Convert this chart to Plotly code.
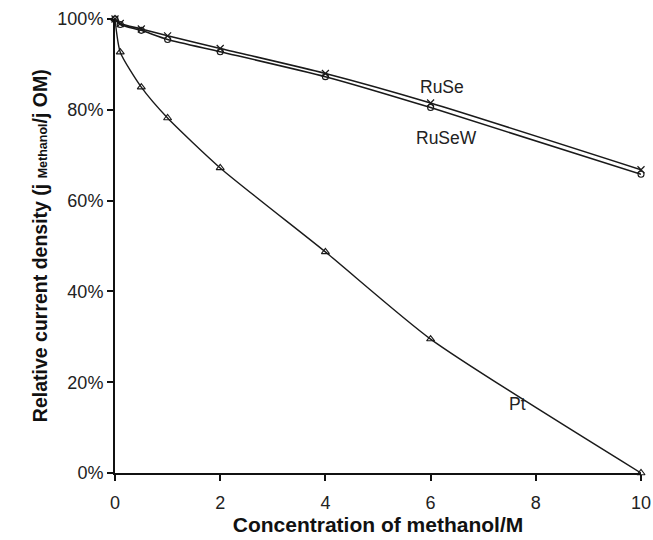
import plotly.graph_objects as go

conc = [0, 0.1, 0.5, 1, 2, 4, 6, 10]
pt = [1.00, 0.927, 0.850, 0.782, 0.672, 0.487, 0.295, 0.0]
ruse = [1.00, 0.990, 0.978, 0.963, 0.935, 0.880, 0.815, 0.668]
rusew = [1.00, 0.988, 0.975, 0.955, 0.928, 0.873, 0.805, 0.658]

ink = "#1a1a1a"
fig = go.Figure()
fig.add_trace(go.Scatter(x=conc, y=ruse, mode="lines+markers", name="RuSe",
                         line=dict(color=ink, width=1.6, shape="spline", smoothing=0.6),
                         marker=dict(symbol="x-thin-open", size=7, color=ink, line=dict(width=1.2, color=ink)),
                         cliponaxis=False))
fig.add_trace(go.Scatter(x=conc, y=rusew, mode="lines+markers", name="RuSeW",
                         line=dict(color=ink, width=1.6, shape="spline", smoothing=0.6),
                         marker=dict(symbol="circle-open", size=6, color=ink, line=dict(width=1.1)),
                         cliponaxis=False))
fig.add_trace(go.Scatter(x=conc, y=pt, mode="lines+markers", name="Pt",
                         line=dict(color=ink, width=1.4, shape="spline", smoothing=0.6),
                         marker=dict(symbol="triangle-up-open", size=7, color=ink, line=dict(width=1.1)),
                         cliponaxis=False))

fig.add_annotation(x=6.22, y=0.850, text="RuSe", showarrow=False, font=dict(size=17.5, color="#222"))
fig.add_annotation(x=6.31, y=0.738, text="RuSeW", showarrow=False, font=dict(size=17.5, color="#222"))
fig.add_annotation(x=7.66, y=0.152, text="Pt", showarrow=False, font=dict(size=17.5, color="#222"))

fig.add_annotation(xref="paper", yref="paper", x=-0.167, y=0.5, textangle=-90, showarrow=False,
                   text="<b>Relative current density (j <span style='font-size:12.5px'>Methanol</span>/j OM)</b>",
                   font=dict(size=19.5, color="#111"))

fig.update_layout(
    width=653, height=540,
    margin=dict(l=115, r=12, t=19, b=67),
    plot_bgcolor="white", paper_bgcolor="white",
    showlegend=False,
    font=dict(family="Liberation Sans, Arial, sans-serif", size=18, color="#222"),
    xaxis=dict(range=[0, 10], tickvals=[0, 2, 4, 6, 8, 10], showgrid=False, zeroline=False,
               showline=True, linecolor="#111", linewidth=2, ticks="outside", ticklen=6,
               tickwidth=2, tickcolor="#111", automargin=False, ticklabelstandoff=6,
               title=dict(text="<b>Concentration of methanol/M</b>", font=dict(size=21, color="#111"), standoff=4)),
    yaxis=dict(range=[0, 1], tickvals=[0, 0.2, 0.4, 0.6, 0.8, 1.0], tickformat=".0%",
               showgrid=False, zeroline=False, automargin=False,
               showline=True, linecolor="#111", linewidth=2, ticks="outside", ticklen=6,
               tickwidth=2, tickcolor="#111"),
)

fig.write_html("out.html", config={"displayModeBar": False},
               post_script="document.body.style.margin='0';document.body.style.overflow='hidden';")
